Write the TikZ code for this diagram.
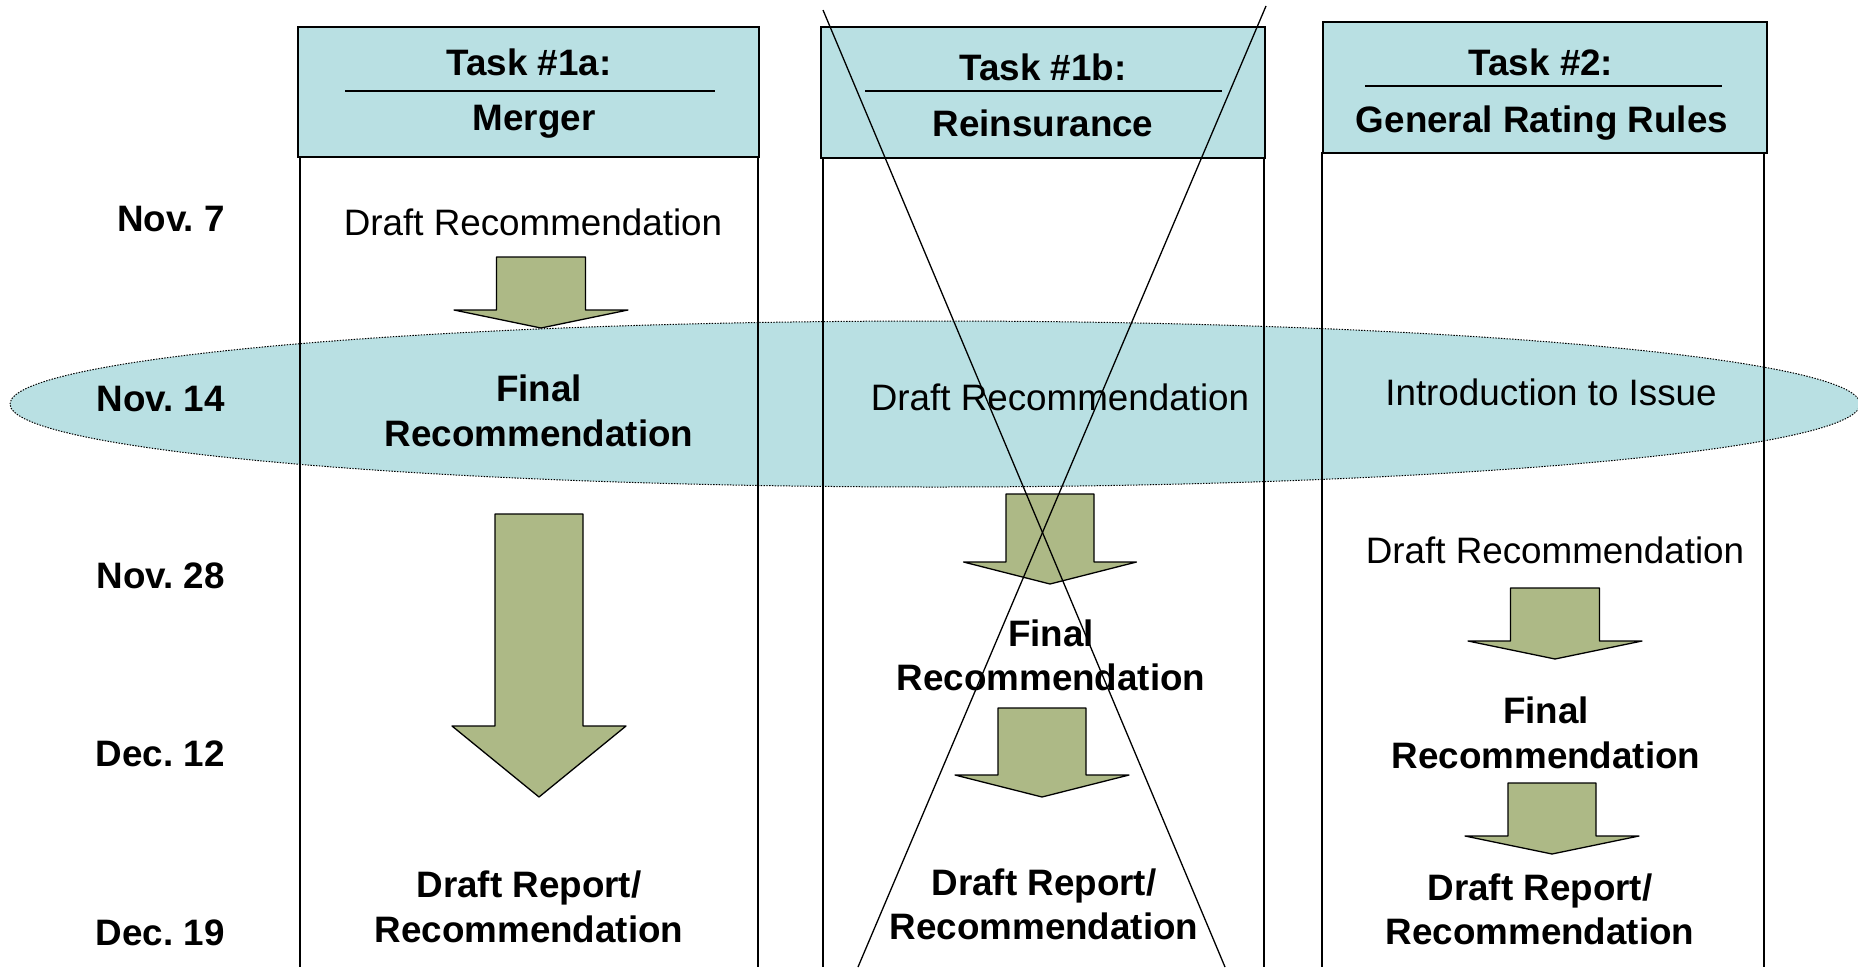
\documentclass[tikz,border=0pt]{standalone}
\usepackage{fontspec}
\setmainfont{Liberation Sans}
\usetikzlibrary{shapes.geometric}
\definecolor{hdr}{RGB}{185,224,227}
\definecolor{arr}{RGB}{173,185,134}
\newcommand\blkarr[6]{\draw[blockarrow] (#1-#3,#2) -- (#1+#3,#2) -- (#1+#3,#4) -- (#1+#5,#4) -- (#1,#6) -- (#1-#5,#4) -- (#1-#3,#4) -- cycle;}
\frenchspacing
\begin{document}
\begin{tikzpicture}[x=1pt,y=-1pt,
  txt/.style={font=\fontsize{36.8}{45}\selectfont, anchor=base, inner sep=0pt},
  btxt/.style={font=\fontsize{36.8}{45}\selectfont\bfseries, anchor=base, inner sep=0pt},
  datelbl/.style={btxt, anchor=base east},
  hdrbox/.style={draw=black, line width=2pt, fill=hdr, anchor=north west, inner sep=0pt},
  colline/.style={line width=1.4pt},
  hrule/.style={line width=1.4pt},
  blockarrow/.style={draw=black, line width=1.3pt, fill=arr, line join=round},
  crossline/.style={line width=1.3pt},
  band/.style={ellipse, fill=hdr, draw=black, line width=1pt, dash pattern=on 1.4pt off 1.4pt, inner sep=0pt}]
\useasboundingbox (0,0) rectangle (1858,967);
\fill[white] (0,0) rectangle (1858,967);

% highlighted band
\node (band) [band, minimum width=1850pt, minimum height=166pt] at (935,404) {};

% columns
\draw[colline] (300,156) -- (300,967);
\draw[colline] (758,156) -- (758,967);
\draw[colline] (823,156) -- (823,967);
\draw[colline] (1264,156) -- (1264,967);
\draw[colline] (1322,152) -- (1322,967);
\draw[colline] (1764,152) -- (1764,967);

% headers
\node (h1a) [hdrbox, minimum width=461pt, minimum height=130pt] at (297,26) {};
\node (h1b) [hdrbox, minimum width=444pt, minimum height=131pt] at (820,26) {};
\node (h2)  [hdrbox, minimum width=444pt, minimum height=131pt] at (1322,21) {};
\draw[hrule] (345,91) -- (715,91);
\draw[hrule] (865,91) -- (1222,91);
\draw[hrule] (1365,86) -- (1722,86);
\node (t1a) [btxt] at (529,75) {Task \#1a:};
\node (n1a) [btxt] at (534,130) {Merger};
\node (t1b) [btxt] at (1043,80) {Task \#1b:};
\node (n1b) [btxt] at (1043,136) {Reinsurance};
\node (t2)  [btxt] at (1541,75) {Task \#2:};
\node (n2)  [btxt] at (1542,132) {General Rating Rules};

% dates
\node (d1) [datelbl] at (225,231) {Nov. 7};
\node (d2) [datelbl] at (225,411) {Nov. 14};
\node (d3) [datelbl] at (225,588) {Nov. 28};
\node (d4) [datelbl] at (225,766) {Dec. 12};
\node (d5) [datelbl] at (225,945) {Dec. 19};

% column 1a
\node (a1) [txt]  at (533,235) {Draft Recommendation};
\node (a2) [btxt] at (539,401) {Final};
\node (a3) [btxt] at (539,446) {Recommendation};
\node (a4) [btxt] at (529,897) {Draft Report/};
\node (a5) [btxt] at (529,942) {Recommendation};
\blkarr{541}{257}{44.5}{310}{87}{328}
\blkarr{539}{514}{44}{726}{87}{797}

% column 1b
\node (b1) [txt]  at (1060,410) {Draft Recommendation};
\node (b2) [btxt] at (1051,646) {Final};
\node (b3) [btxt] at (1051,690) {Recommendation};
\node (b4) [btxt] at (1044,895) {Draft Report/};
\node (b5) [btxt] at (1044,939) {Recommendation};
\blkarr{1050}{494}{44}{562}{86.5}{584}
\blkarr{1042}{708}{44}{775}{87}{797}

% column 2
\node (c1) [txt]  at (1551,405) {Introduction to Issue};
\node (c2) [txt]  at (1555,563) {Draft Recommendation};
\node (c3) [btxt] at (1546,723) {Final};
\node (c4) [btxt] at (1546,768) {Recommendation};
\node (c5) [btxt] at (1540,900) {Draft Report/};
\node (c6) [btxt] at (1540,944) {Recommendation};
\blkarr{1555}{588}{44.5}{641}{87}{659}
\blkarr{1552}{783}{44}{836}{87}{854}

% cross-out of task 1b
\coordinate (xa1) at (823,10);
\coordinate (xa2) at (1225,967);
\coordinate (xb1) at (1266,6);
\coordinate (xb2) at (858,967);
\draw[crossline] (xa1) -- (xa2);
\draw[crossline] (xb1) -- (xb2);
\end{tikzpicture}
\end{document}
